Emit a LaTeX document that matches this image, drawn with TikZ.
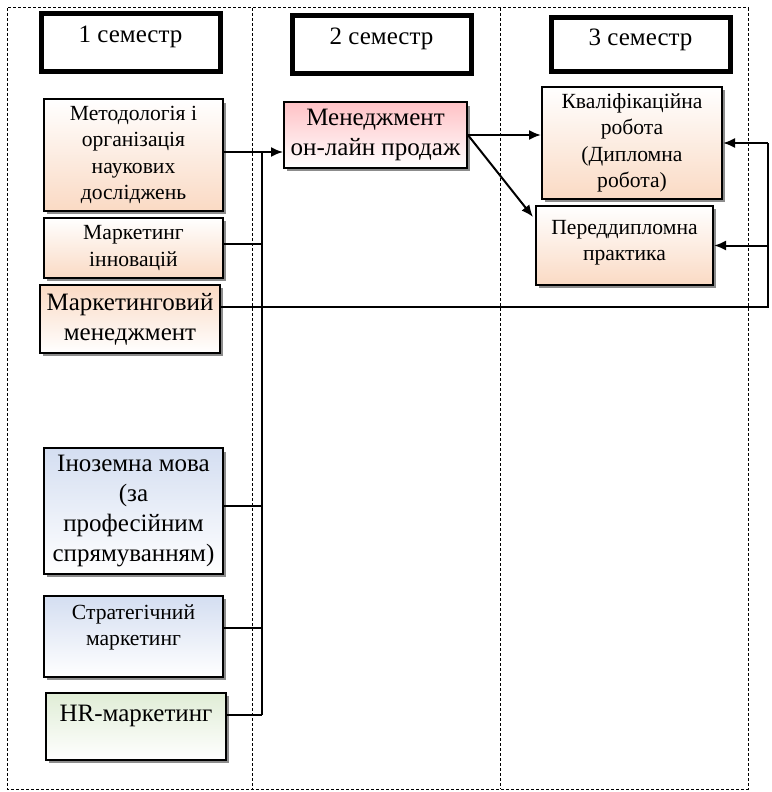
\documentclass[tikz,border=0pt]{standalone}
\usepackage{fontspec}
\setmainfont{Liberation Serif}
\usetikzlibrary{positioning, arrows.meta, shadows}

\definecolor{peach}{RGB}{250,218,196}
\definecolor{lblue}{RGB}{212,222,241}
\definecolor{lgreen}{RGB}{224,237,214}
\definecolor{lpink}{RGB}{255,194,198}
\newcommand{\fbig}{\fontsize{12.5}{15}\selectfont}
\newcommand{\fsmall}{\fontsize{10.8}{13.2}\selectfont}

\tikzset{
  frame/.style={dash pattern=on 1.5pt off 1pt, line width=0.5pt},
  sem/.style={draw, line width=2.5pt, minimum width=89.5pt, minimum height=29pt,
    text depth=8pt, font=\fbig},
  disc/.style={draw, line width=1pt, align=center, font=\fsmall,
    drop shadow={shadow xshift=1.6pt, shadow yshift=-1.6pt, fill=black!45, opacity=1}},
  up/.style={top color=white, bottom color=peach},
  down/.style={top color=peach, bottom color=white},
  arr/.style={-{Latex[length=6pt,width=5pt]}, line width=1pt},
  link/.style={line width=0.8pt}
}

\begin{document}
\begin{tikzpicture}[x=0.5pt, y=-0.5pt]
	\useasboundingbox (0,0) rectangle (771,792);

	% semester columns
	\draw[frame] (7,8) rectangle (748,789);
	\draw[frame] (252,8) -- (252,789);
	\draw[frame] (500,8) -- (500,789);

	\node[sem] (S1) at (130.5,42.5) {1 семестр};
	\node[sem] (S2) at (381.5,44.5) {2 семестр};
	\node[sem, minimum height=27pt] (S3) at (640.5,45) {3 семестр};

	% 1 semester
	\node[disc, up, minimum width=89.5pt, minimum height=52pt] (D1) at (133.5,155)
		{Методологія і\\організація\\наукових\\досліджень};
	\node[disc, up, minimum width=89.5pt, minimum height=30pt] (D2) at (133.5,248)
		{Маркетинг\\інновацій};
	\node[disc, down, font=\fbig, minimum width=89pt, minimum height=34pt] (D3) at (130,319)
		{Маркетинговий\\менеджмент};
	\node[disc, top color=lblue, bottom color=white, font=\fbig, minimum width=89.5pt,
		minimum height=61pt] (D4) at (133.5,511)
		{Іноземна мова\\(за\\професійним\\спрямуванням)};
	\node[disc, top color=lblue, bottom color=white, minimum width=89.5pt,
		minimum height=40.5pt, text depth=11.5pt] (D5) at (133.5,636.5)
		{Стратегічний\\маркетинг};
	\node[disc, top color=lgreen, bottom color=white, font=\fbig, minimum width=90pt,
		minimum height=33.5pt, text depth=13pt] (D6) at (136,726.5) {HR-маркетинг};

	% 2 semester
	\node[disc, top color=lpink, bottom color=white, font=\fbig, minimum width=89.5pt,
		minimum height=32pt] (D7) at (375.5,135) {Менеджмент\\он-лайн продаж};

	% 3 semester
	\node[disc, up, minimum width=90pt, minimum height=54pt] (K) at (632,143)
		{Кваліфікаційна\\робота\\(Дипломна\\робота)};
	\node[disc, up, minimum width=88.5pt, minimum height=39.5pt, text depth=5pt] (P) at (624.5,245.5)
		{Переддипломна\\практика};

	\coordinate (bt) at (262,152);
	\coordinate (bb) at (262,715);
	\coordinate (rb) at (768,143);
	\coordinate (pt) at (533,217);

	% connectors
	\draw[link, line width=1pt] (bt) -- (bb);
	\draw[arr] ([yshift=1.5pt]D1.east) -- ([yshift=1.5pt]D1.east -| D7.west);
	\draw[link] ([yshift=2pt]D2.east) -- ([yshift=2pt]D2.east -| bt);
	\draw[link] ([yshift=2.5pt]D4.east) -- ([yshift=2.5pt]D4.east -| bt);
	\draw[link] ([yshift=4.25pt]D5.east) -- ([yshift=4.25pt]D5.east -| bt);
	\draw[link] ([yshift=5.75pt]D6.east) -- ([yshift=5.75pt]D6.east -| bt);

	\draw[arr] (D7.east) -- (D7.east -| K.west);
	\draw[arr] (D7.east) -- (pt);

	\draw[link, line width=1pt] ([yshift=6pt]D3.east) -| (rb);
	\draw[arr] (rb) -- (K.east);
	\draw[arr] (P.east -| rb) -- (P.east);
\end{tikzpicture}
\end{document}
